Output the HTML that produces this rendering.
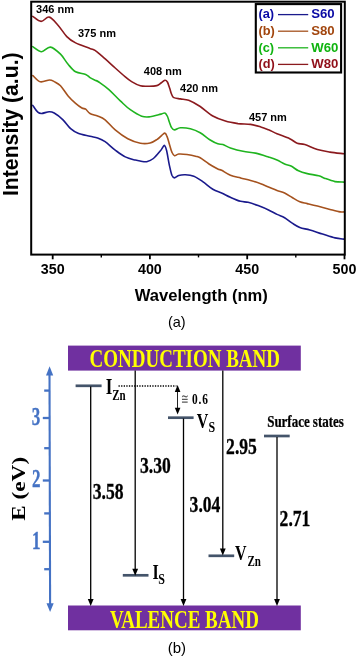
<!DOCTYPE html>
<html lang="en"><head><meta charset="utf-8"><title>Figure</title>
<style>
html,body{margin:0;padding:0;background:#fff;}
body{width:357px;height:656px;overflow:hidden;}
svg{display:block;}
</style></head><body>
<svg width="357" height="656" viewBox="0 0 357 656">
<rect width="357" height="656" fill="#fff"/>
<g font-family="'Liberation Sans', Arial, sans-serif" font-weight="bold" fill="#000">
<path d="M32.8 105.4 C33.6 106.5 36.3 110.9 37.8 112.2 C39.3 113.5 39.7 113.6 41.6 113.5 C43.5 113.4 47.1 111.8 49.2 111.7 C51.3 111.6 51.9 111.7 54.2 113.0 C56.5 114.3 60.3 117.2 63.0 119.8 C65.7 122.4 68.1 126.4 70.6 128.6 C73.1 130.8 74.9 131.9 78.1 133.2 C81.3 134.5 86.8 135.4 90.0 136.2 C93.2 137.0 95.1 137.1 97.6 138.0 C100.1 138.9 102.2 139.7 105.1 141.7 C108.0 143.7 111.8 147.6 115.2 150.1 C118.6 152.6 121.9 155.2 125.3 156.9 C128.7 158.6 132.8 159.4 135.4 160.1 C138.0 160.8 139.1 160.9 141.0 161.2 C142.9 161.5 144.6 162.1 146.7 161.7 C148.8 161.2 151.2 160.3 153.4 158.5 C155.7 156.7 158.6 152.9 160.2 151.0 C161.8 149.1 162.1 148.1 162.8 147.2 C163.5 146.3 164.0 144.9 164.6 145.5 C165.2 146.1 165.8 147.2 166.6 150.5 C167.4 153.8 168.5 161.2 169.4 165.3 C170.3 169.4 171.1 173.2 171.9 175.3 C172.8 177.4 173.4 177.9 174.5 177.9 C175.6 177.9 176.9 176.0 178.7 175.5 C180.5 175.0 182.9 174.7 185.4 174.8 C187.9 174.9 190.9 175.1 193.8 176.2 C196.7 177.3 199.5 179.4 202.7 181.6 C205.9 183.8 209.7 187.3 212.8 189.2 C216.0 191.1 218.7 191.7 221.6 193.0 C224.5 194.3 227.2 195.9 230.4 197.3 C233.6 198.7 237.6 200.5 240.5 201.3 C243.4 202.1 245.2 201.6 248.1 202.3 C251.0 203.0 254.7 204.3 258.1 205.6 C261.5 206.9 265.4 208.5 268.5 210.0 C271.6 211.5 274.3 213.1 277.0 214.4 C279.7 215.7 282.1 216.2 284.6 217.7 C287.1 219.2 289.7 221.6 292.2 223.2 C294.7 224.8 296.9 226.4 299.8 227.5 C302.8 228.6 306.1 228.9 309.9 230.0 C313.7 231.1 318.3 232.8 322.5 234.1 C326.7 235.4 331.4 237.1 335.0 237.9 C338.6 238.7 342.4 238.9 343.9 239.1" fill="none" stroke="#1a1a8c" stroke-width="1.6" stroke-linejoin="round" stroke-linecap="round"/>
<path d="M32.9 75.6 C34.1 76.6 37.5 81.1 40.3 81.8 C43.1 82.5 47.2 80.0 49.5 80.0 C51.8 80.0 52.4 80.6 54.2 81.6 C56.0 82.6 58.2 83.4 60.5 85.8 C62.8 88.2 65.6 93.0 68.1 95.9 C70.6 98.8 73.3 101.4 75.6 103.4 C77.9 105.4 80.2 107.0 81.9 108.0 C83.6 109.0 84.4 108.3 85.7 109.2 C87.0 110.1 88.0 112.4 90.0 113.5 C92.0 114.6 95.1 115.0 97.6 116.0 C100.1 117.0 102.2 117.5 105.1 119.8 C108.0 122.1 111.4 126.8 115.2 129.9 C119.0 133.1 123.6 136.5 127.8 138.7 C132.0 140.9 136.7 142.5 140.4 143.2 C144.1 143.9 147.4 143.6 150.1 143.0 C152.8 142.4 154.9 140.9 156.8 139.6 C158.8 138.3 160.5 136.4 161.8 135.3 C163.2 134.2 164.1 133.0 164.9 133.1 C165.8 133.2 166.2 134.2 166.9 136.1 C167.7 137.9 168.6 141.5 169.4 144.2 C170.2 146.9 171.1 150.3 171.9 152.2 C172.8 154.1 173.4 155.5 174.5 155.8 C175.6 156.1 176.6 154.2 178.7 154.0 C180.8 153.8 184.2 154.1 187.0 154.5 C189.8 154.9 193.3 155.6 195.5 156.2 C197.7 156.8 197.9 156.5 200.2 157.8 C202.4 159.1 206.1 162.1 209.0 164.0 C211.9 165.9 215.7 167.9 217.8 169.0 C219.9 170.1 219.5 169.2 221.6 170.3 C223.7 171.4 227.2 174.0 230.4 175.3 C233.6 176.6 237.1 177.1 240.5 177.9 C243.9 178.8 247.2 179.4 250.6 180.4 C254.0 181.4 257.7 182.6 260.7 183.7 C263.7 184.8 265.8 185.9 268.5 187.0 C271.2 188.1 274.3 189.5 277.0 190.5 C279.7 191.5 282.1 191.8 284.6 193.0 C287.1 194.2 289.7 196.0 292.2 197.5 C294.7 199.0 297.3 200.8 299.8 201.8 C302.3 202.8 304.4 202.9 307.3 203.6 C310.2 204.3 313.6 205.1 317.4 206.1 C321.2 207.1 326.2 208.4 330.0 209.4 C333.8 210.4 337.7 211.5 340.0 211.9 C342.3 212.3 343.2 211.9 343.9 211.9" fill="none" stroke="#a5521e" stroke-width="1.6" stroke-linejoin="round" stroke-linecap="round"/>
<path d="M32.8 46.6 C34.3 47.5 38.7 51.6 41.6 51.7 C44.5 51.8 47.2 46.7 50.4 47.1 C53.5 47.5 57.5 51.3 60.5 54.2 C63.5 57.1 65.6 61.4 68.1 64.3 C70.6 67.2 72.7 70.1 75.6 71.8 C78.5 73.5 83.3 73.4 85.7 74.4 C88.1 75.4 88.5 76.6 90.0 77.6 C91.5 78.6 93.5 79.5 95.0 80.2 C96.5 80.9 96.5 80.4 98.8 82.0 C101.1 83.6 105.3 86.4 108.9 89.6 C112.5 92.8 116.7 97.6 120.3 100.9 C123.9 104.2 126.7 107.2 130.3 109.7 C133.9 112.2 138.4 115.0 141.7 116.2 C145.0 117.4 147.3 117.0 150.1 116.8 C152.9 116.6 156.5 115.3 158.5 114.8 C160.5 114.3 160.9 114.1 162.0 113.8 C163.1 113.5 164.0 112.6 164.9 113.1 C165.8 113.5 166.7 114.9 167.5 116.5 C168.3 118.1 168.8 120.7 169.5 122.5 C170.2 124.3 170.7 126.3 171.5 127.5 C172.3 128.7 173.0 129.8 174.5 129.9 C176.0 130.0 177.7 128.0 180.3 127.8 C183.0 127.6 187.1 128.0 190.4 128.8 C193.7 129.6 196.9 130.9 200.2 132.8 C203.5 134.7 207.3 138.2 210.2 140.0 C213.1 141.8 215.7 143.1 217.8 143.8 C219.9 144.6 220.8 143.8 222.9 144.5 C225.0 145.2 227.1 146.9 230.4 148.0 C233.8 149.1 238.8 150.5 243.0 151.3 C247.2 152.2 251.3 152.2 255.6 153.1 C259.9 154.0 264.9 155.8 268.5 157.0 C272.1 158.2 274.3 158.9 277.0 160.1 C279.7 161.3 282.3 163.0 284.6 164.0 C286.9 165.0 288.7 164.9 291.0 166.0 C293.3 167.1 295.8 169.5 298.5 170.8 C301.2 172.1 303.9 172.8 307.3 173.6 C310.7 174.4 315.8 175.0 318.7 175.8 C321.6 176.6 322.3 177.4 325.0 178.4 C327.7 179.4 331.9 181.0 335.0 181.6 C338.1 182.2 342.4 182.0 343.9 182.1" fill="none" stroke="#1fb41f" stroke-width="1.6" stroke-linejoin="round" stroke-linecap="round"/>
<path d="M32.8 16.4 C34.2 17.2 38.4 21.3 41.1 21.4 C43.8 21.5 46.4 16.5 49.2 17.1 C52.0 17.7 55.1 21.9 58.0 25.2 C60.9 28.4 63.9 33.6 66.8 36.6 C69.7 39.6 71.7 40.9 75.6 42.9 C79.5 44.9 86.8 47.1 90.0 48.4 C93.2 49.6 92.9 49.0 95.0 50.4 C97.1 51.8 99.2 53.8 102.6 56.7 C106.0 59.6 111.4 64.6 115.2 68.0 C119.0 71.4 122.6 74.6 125.3 76.9 C128.0 79.2 129.1 80.1 131.6 81.6 C134.1 83.1 137.5 85.0 140.4 85.8 C143.3 86.6 146.5 86.2 149.2 86.2 C151.9 86.2 154.8 86.1 156.8 85.6 C158.8 85.1 159.7 83.9 161.0 83.0 C162.3 82.1 163.8 80.4 164.9 80.2 C166.0 80.0 166.6 80.7 167.4 82.0 C168.2 83.3 168.9 86.0 169.6 88.0 C170.3 90.0 170.8 92.4 171.5 94.0 C172.2 95.6 172.3 96.8 173.8 97.6 C175.3 98.4 177.8 98.5 180.3 98.9 C182.8 99.4 185.4 99.0 188.7 100.3 C192.0 101.6 196.2 103.9 200.2 106.5 C204.2 109.1 208.6 113.6 212.8 116.0 C217.0 118.4 221.2 119.8 225.4 121.1 C229.6 122.4 233.8 123.0 238.0 123.6 C242.2 124.1 246.8 123.9 250.6 124.4 C254.4 125.0 257.7 126.0 260.7 126.9 C263.7 127.8 265.8 128.7 268.5 129.8 C271.2 130.9 273.5 132.2 277.0 133.7 C280.5 135.2 286.3 137.1 289.7 138.7 C293.1 140.3 294.7 142.3 297.2 143.3 C299.7 144.3 301.4 143.4 304.8 144.5 C308.2 145.6 313.2 148.3 317.4 149.6 C321.6 150.9 325.6 151.4 330.0 152.1 C334.4 152.8 341.6 153.5 343.9 153.8" fill="none" stroke="#8b1a1e" stroke-width="1.6" stroke-linejoin="round" stroke-linecap="round"/>
<rect x="31.2" y="1.7" width="313.6" height="252.9" fill="none" stroke="#000" stroke-width="2"/>
<line x1="52.7" y1="254.6" x2="52.7" y2="259.3" stroke="#000" stroke-width="1.8"/>
<line x1="149.9" y1="254.6" x2="149.9" y2="259.3" stroke="#000" stroke-width="1.8"/>
<line x1="247.2" y1="254.6" x2="247.2" y2="259.3" stroke="#000" stroke-width="1.8"/>
<line x1="344.5" y1="254.6" x2="344.5" y2="259.3" stroke="#000" stroke-width="1.8"/>
<line x1="101.3" y1="254.6" x2="101.3" y2="257.4" stroke="#000" stroke-width="1.4"/>
<line x1="198.5" y1="254.6" x2="198.5" y2="257.4" stroke="#000" stroke-width="1.4"/>
<line x1="295.8" y1="254.6" x2="295.8" y2="257.4" stroke="#000" stroke-width="1.4"/>
<text x="52.7" y="274.3" font-size="14.3" text-anchor="middle">350</text>
<text x="149.9" y="274.3" font-size="14.3" text-anchor="middle">400</text>
<text x="247.2" y="274.3" font-size="14.3" text-anchor="middle">450</text>
<text x="344.5" y="274.3" font-size="14.3" text-anchor="middle">500</text>
<text x="201.3" y="301.2" font-size="16.6" text-anchor="middle">Wavelength (nm)</text>
<text transform="translate(17.6,124.2) rotate(-90)" font-size="21.2" text-anchor="middle">Intensity (a.u.)</text>
<text x="36.1" y="13.1" font-size="11">346 nm</text>
<text x="78.0" y="37.1" font-size="11">375 nm</text>
<text x="143.8" y="75.1" font-size="11">408 nm</text>
<text x="180.1" y="91.6" font-size="11">420 nm</text>
<text x="248.9" y="121.1" font-size="11">457 nm</text>
<rect x="255.8" y="4.1" width="85.3" height="68.4" fill="#fff" stroke="#000" stroke-width="2.1"/>
<text x="258.4" y="18.4" font-size="12.8" fill="#0a0aa4">(a)</text>
<line x1="278" y1="14.6" x2="308.2" y2="14.6" stroke="#1a1a8c" stroke-width="1.3"/>
<text x="311.2" y="18.3" font-size="13.2" fill="#0a0aa4">S60</text>
<text x="258.4" y="35.0" font-size="12.8" fill="#a2460e">(b)</text>
<line x1="278" y1="31.2" x2="308.2" y2="31.2" stroke="#a5521e" stroke-width="1.3"/>
<text x="311.2" y="34.9" font-size="13.2" fill="#a2460e">S80</text>
<text x="258.4" y="51.6" font-size="12.8" fill="#10b410">(c)</text>
<line x1="278" y1="47.8" x2="308.2" y2="47.8" stroke="#1fb41f" stroke-width="1.3"/>
<text x="311.2" y="51.5" font-size="13.2" fill="#10b410">W60</text>
<text x="258.4" y="68.2" font-size="12.8" fill="#90101a">(d)</text>
<line x1="278" y1="64.4" x2="308.2" y2="64.4" stroke="#8b1a1e" stroke-width="1.3"/>
<text x="311.2" y="68.1" font-size="13.2" fill="#90101a">W80</text>
</g>
<text x="176.8" y="327.2" font-family="'Liberation Sans', Arial, sans-serif" font-size="14.5" text-anchor="middle" fill="#000">(a)</text>
<g font-family="'Liberation Serif', 'Times New Roman', serif" font-weight="bold">
<rect x="68" y="345.6" width="232.8" height="25" fill="#7030a0"/>
<rect x="68" y="605.5" width="232.8" height="24.8" fill="#7030a0"/>
<text transform="translate(184.8,367.2) scale(1,1.310)" font-size="19.0" fill="#ffff00" text-anchor="middle">CONDUCTION BAND</text>
<text transform="translate(184.4,627.7) scale(1,1.310)" font-size="19.0" fill="#ffff00" text-anchor="middle">VALENCE BAND</text>
<line x1="49.5" y1="372" x2="50.1" y2="606" stroke="#4472c4" stroke-width="2.1"/>
<path d="M49.6 366.2 L53.2 375.4 L46 375.4 Z" fill="#4472c4"/>
<path d="M50.1 612 L53.7 603.2 L46.5 603.2 Z" fill="#4472c4"/>
<line x1="44.2" y1="390.6" x2="49.6" y2="390.6" stroke="#4472c4" stroke-width="2.3"/>
<line x1="42.8" y1="418.0" x2="49.6" y2="418.0" stroke="#4472c4" stroke-width="2.3"/>
<line x1="44.2" y1="448.2" x2="49.6" y2="448.2" stroke="#4472c4" stroke-width="2.3"/>
<line x1="42.8" y1="480.5" x2="49.6" y2="480.5" stroke="#4472c4" stroke-width="2.3"/>
<line x1="44.2" y1="513.4" x2="49.6" y2="513.4" stroke="#4472c4" stroke-width="2.3"/>
<line x1="42.8" y1="541.8" x2="49.6" y2="541.8" stroke="#4472c4" stroke-width="2.3"/>
<line x1="44.2" y1="569.2" x2="49.6" y2="569.2" stroke="#4472c4" stroke-width="2.3"/>
<text transform="translate(36.0,424.7) scale(1,1.440)" font-size="17.0" fill="#4472c4" text-anchor="middle" stroke="#4472c4" stroke-width="0.25">3</text>
<text transform="translate(36.2,487.2) scale(1,1.420)" font-size="17.0" fill="#4472c4" text-anchor="middle" stroke="#4472c4" stroke-width="0.25">2</text>
<text transform="translate(36.2,548.9) scale(1,1.420)" font-size="17.0" fill="#4472c4" text-anchor="middle" stroke="#4472c4" stroke-width="0.25">1</text>
<text transform="translate(24.6,488.8) scale(1,1.27) rotate(-90)" font-size="18.3" text-anchor="middle" fill="#000">E (eV)</text>
<line x1="75.6" y1="385.8" x2="101.6" y2="385.8" stroke="#44546a" stroke-width="2.7"/>
<line x1="168.0" y1="417.7" x2="193.6" y2="417.7" stroke="#44546a" stroke-width="2.7"/>
<line x1="264.0" y1="436.0" x2="289.7" y2="436.0" stroke="#44546a" stroke-width="2.7"/>
<line x1="208.5" y1="555.8" x2="234.2" y2="555.8" stroke="#44546a" stroke-width="2.7"/>
<line x1="122.8" y1="575.3" x2="148.5" y2="575.3" stroke="#44546a" stroke-width="2.7"/>
<line x1="90.7" y1="386.5" x2="90.7" y2="601.5" stroke="#000" stroke-width="1.3"/>
<path d="M90.7 605.9 L93.6 598.9 L87.8 598.9 Z" fill="#000"/>
<line x1="135.2" y1="370.5" x2="135.2" y2="571.3" stroke="#000" stroke-width="1.3"/>
<path d="M135.2 575.7 L138.1 568.7 L132.3 568.7 Z" fill="#000"/>
<line x1="183.5" y1="418.5" x2="183.5" y2="601.5" stroke="#000" stroke-width="1.3"/>
<path d="M183.5 605.9 L186.4 598.9 L180.6 598.9 Z" fill="#000"/>
<line x1="222.8" y1="370.5" x2="222.8" y2="551.2" stroke="#000" stroke-width="1.3"/>
<path d="M222.8 555.6 L225.7 548.6 L219.9 548.6 Z" fill="#000"/>
<line x1="277.0" y1="437.0" x2="277.0" y2="601.5" stroke="#000" stroke-width="1.3"/>
<path d="M277.0 605.9 L279.9 598.9 L274.1 598.9 Z" fill="#000"/>
<line x1="118.5" y1="386" x2="176.5" y2="386" stroke="#000" stroke-width="1.5" stroke-dasharray="1.3 1.3"/>
<line x1="177.5" y1="389" x2="177.5" y2="410" stroke="#222" stroke-width="1"/>
<path d="M177.6 384.9 L180.4 391.9 L174.8 391.9 Z" fill="#000"/>
<path d="M177.6 414.4 L180.4 407.8 L174.8 407.8 Z" fill="#000"/>
<text transform="translate(181.3,403.5) scale(1,1.650)" font-size="9.2" fill="#5a5a5a" text-anchor="start" font-weight="normal">≅</text>
<text transform="translate(192.0,403.6) scale(1,1.300)" font-size="11.4" fill="#000" text-anchor="start" textLength="16" lengthAdjust="spacing">0.6</text>
<text transform="translate(92.8,499.3) scale(1,1.340)" font-size="17.6" fill="#000" text-anchor="start" stroke="#000" stroke-width="0.25">3.58</text>
<text transform="translate(140.0,472.9) scale(1,1.340)" font-size="17.6" fill="#000" text-anchor="start" stroke="#000" stroke-width="0.25">3.30</text>
<text transform="translate(226.1,453.5) scale(1,1.340)" font-size="17.6" fill="#000" text-anchor="start" stroke="#000" stroke-width="0.25">2.95</text>
<text transform="translate(189.6,511.8) scale(1,1.340)" font-size="17.6" fill="#000" text-anchor="start" stroke="#000" stroke-width="0.25">3.04</text>
<text transform="translate(279.6,526.1) scale(1,1.340)" font-size="17.6" fill="#000" text-anchor="start" stroke="#000" stroke-width="0.25">2.71</text>
<text transform="translate(267.2,426.7) scale(1,1.220)" font-size="13.0" fill="#000" text-anchor="start" stroke="#000" stroke-width="0.2" textLength="76.6" lengthAdjust="spacing">Surface states</text>
<text transform="translate(105.8,394.4) scale(1,1.380)" font-size="17.0" fill="#000" text-anchor="start">I</text>
<text transform="translate(112.2,400.0) scale(1,1.360)" font-size="11.0" fill="#000" text-anchor="start">Zn</text>
<text transform="translate(196.8,427.5) scale(1,1.280)" font-size="16.0" fill="#000" text-anchor="start">V</text>
<text transform="translate(208.6,431.8) scale(1,1.250)" font-size="12.0" fill="#000" text-anchor="start">S</text>
<text transform="translate(152.5,578.6) scale(1,1.280)" font-size="16.0" fill="#000" text-anchor="start">I</text>
<text transform="translate(158.2,583.7) scale(1,1.250)" font-size="12.0" fill="#000" text-anchor="start">S</text>
<text transform="translate(235.1,560.3) scale(1,1.330)" font-size="16.0" fill="#000" text-anchor="start">V</text>
<text transform="translate(247.4,566.0) scale(1,1.280)" font-size="11.0" fill="#000" text-anchor="start">Zn</text>
</g>
<text x="176.9" y="653.4" font-family="'Liberation Sans', Arial, sans-serif" font-size="15" text-anchor="middle" fill="#000">(b)</text>
</svg>
</body></html>
